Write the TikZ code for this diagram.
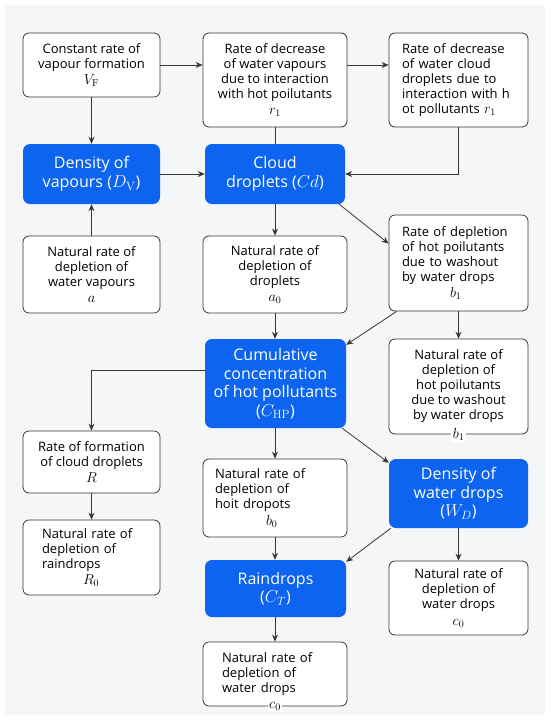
\documentclass[tikz,border=0pt]{standalone}
\usepackage[no-math]{fontspec}
\setmainfont{Open Sans}
\usetikzlibrary{arrows.meta,positioning}
\definecolor{bgc}{RGB}{245,246,248}
\definecolor{bluec}{RGB}{12,100,240}
\definecolor{linec}{RGB}{55,55,55}
\newcommand\wtext{\fontsize{13}{15}\selectfont}
\newcommand\btext{\fontsize{16}{18.5}\selectfont}
\newcommand\wmath[1]{{\fontsize{14.5}{15}\selectfont$#1$}}
\newcommand\bmath[1]{{\fontsize{17}{18.5}\selectfont$#1$}}
\tikzset{
  wbox/.style={draw=linec, fill=white, rounded corners=6pt, line width=0.8pt,
    align=center, font=\wtext, inner sep=0pt, text=black},
  bbox/.style={fill=bluec, rounded corners=7pt, align=center, font=\btext,
    inner sep=0pt, text=white},
  conn/.style={draw=linec, line width=0.8pt, -{Stealth[length=7pt,width=6pt]}},
  plainconn/.style={draw=linec, line width=0.8pt},
  sz/.style n args={2}{minimum width=#1pt, minimum height=#2pt},
  tw/.style={text width=#1pt, align=left},
  onborder/.style={anchor=center, fill=white, inner sep=1.5pt, font=\wtext}
}
\begin{document}
\begin{tikzpicture}[x=1pt,y=-1pt]
\useasboundingbox (0,0) rectangle (550,721);
\fill[white] (0,0) rectangle (550,721);
\fill[bgc] (5,5) rectangle (545,715);

% row 1
\node[wbox, sz={137}{64}] (VF) at (91.5,65) {Constant rate of\\vapour formation\\[1.5pt]\wmath{V_{\mathrm{F}}}};
\node[wbox, sz={144}{94}] (r1a) at (275,80) {Rate of decrease\\of water vapours\\due to interaction\\with hot poilutants\\[1.5pt]\wmath{r_1}};
\node[wbox, sz={139}{94}, tw={113}] (r1b) at (458.5,80) {Rate of decrease\\of water cloud\\droplets due to\\interaction with h\\ot pollutants \wmath{r_1}};

% row 2
\node[bbox, sz={137}{60}] (DV) at (91.5,174) {Density of\\vapours (\bmath{D_{\mathrm{V}}})};
\node[bbox, sz={140}{60}] (Cd) at (275,174) {Cloud\\droplets (\bmath{Cd})};

% row 3
\node[wbox, sz={137}{77}] (a) at (91.5,274.5) {Natural rate of\\depletion of\\water vapours\\[1.5pt]\wmath{a}};
\node[wbox, sz={144}{77}] (a0) at (275,274.5) {Natural rate of\\depletion of\\droplets\\[1.5pt]\wmath{a_0}};
\node[wbox, sz={139}{96}, tw={113}] (b1a) at (458.5,263) {Rate of depletion\\of hot poilutants\\due to washout\\by water drops\\[1.5pt]\hspace*{48pt}\wmath{b_1}};

% row 4
\node[bbox, sz={141}{89}] (CHP) at (275.5,383.5) {Cumulative\\concentration\\of hot pollutants\\(\bmath{C_{\mathrm{HP}}})};
\node[wbox, sz={139}{95}, label={[onborder]south:\wmath{b_1}}] (b1b) at (458.5,386.5) {Natural rate of\\depletion of\\hot poilutants\\due to washout\\by water drops};

% row 5
\node[wbox, sz={137}{62}] (R) at (91.5,462) {Rate of formation\\of cloud droplets\\[1.5pt]\wmath{R}};
\node[wbox, sz={144}{78}, tw={120}] (b0) at (275,498) {Natural rate of\\depletion of\\hoit dropots\\[1.5pt]\hspace*{51pt}\wmath{b_0}};
\node[bbox, sz={139}{69}] (WD) at (458.5,493.5) {Density of\\water drops\\(\bmath{W_D})};

% row 6
\node[wbox, sz={137}{75}, tw={99}] (R0) at (91.5,557.5) {Natural rate of\\depletion of\\raindrops\\[1.5pt]\hspace*{41pt}\wmath{R_0}};
\node[bbox, sz={141}{57}] (CT) at (275.5,588.5) {Raindrops\\(\bmath{C_T})};
\node[wbox, sz={139}{74}] (c0r) at (458.5,598) {Natural rate of\\depletion of\\water drops\\[1.5pt]\wmath{c_0}};

% row 7
\node[wbox, sz={144}{64}, tw={106}, label={[onborder]south:\wmath{c_0}}] (c0b) at (275,674) {Natural rate of\\depletion of\\water drops};

% connectors
\draw[conn] (VF.east) -- (VF.east -| r1a.west);
\draw[conn] (r1a.east |- VF.east) -- (r1b.west |- VF.east);
\draw[conn] (VF.south) -- (DV.north);
\draw[conn] (a.north) -- (DV.south);
\draw[conn] (DV.east) -- (Cd.west);
\draw[plainconn] (r1a.south) -- (Cd.north);
\draw[conn] (r1b.south) |- (Cd.east);
\draw[conn] (Cd.south) -- (a0.north);
\draw[conn] ([xshift=-6pt]Cd.south east) -- ([yshift=-29pt]b1a.north west);
\draw[conn] (a0.south) -- (a0.south |- CHP.north);
\draw[conn] ([xshift=8pt]b1a.south west) -- ([yshift=-6pt]CHP.north east);
\draw[conn] (b1a.south) -- (b1b.north);
\draw[conn] ([yshift=-32pt]CHP.north west) -| (R.north);
\draw[conn] (b0.north |- CHP.south) -- (b0.north);
\draw[conn] ([xshift=-4pt]CHP.south east) -- ([yshift=-4pt]WD.north west);
\draw[conn] (R.south) -- (R0.north);
\draw[conn] (b0.south) -- (b0.south |- CT.north);
\draw[conn] ([xshift=2pt]WD.south west) -- ([yshift=-2pt]CT.north east);
\draw[conn] (WD.south) -- (c0r.north);
\draw[conn] (CT.south -| c0b.north) -- (c0b.north);
\end{tikzpicture}
\end{document}
